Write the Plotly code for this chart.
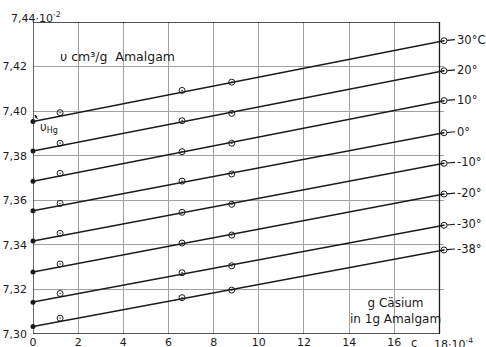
import plotly.graph_objects as go

# --- data ---
temps = ["30°C", "20°", "10°", "0°", "-10°", "-20°", "-30°", "-38°"]
# specific volume of pure mercury (c = 0), units of 10^-2 cm3/g
v_hg = [7.3953, 7.3821, 7.3685, 7.3553, 7.3417, 7.3278, 7.3143, 7.3034]
# end of the fitted lines (right-hand circles)
c_end = 18.2
v_end = [7.4316, 7.4181, 7.4047, 7.3903, 7.3766, 7.3628, 7.3488, 7.3377]
# measured concentrations (10^-4 g Cs in 1 g amalgam)
c_meas = [1.2, 6.6, 8.8, 18.2]
v_meas = [
    [7.3993, 7.4093, 7.4130, 7.4316],
    [7.3856, 7.3957, 7.3990, 7.4181],
    [7.3721, 7.3818, 7.3856, 7.4047],
    [7.3586, 7.3686, 7.3718, 7.3903],
    [7.3452, 7.3546, 7.3582, 7.3766],
    [7.3314, 7.3408, 7.3444, 7.3628],
    [7.3182, 7.3275, 7.3306, 7.3488],
    [7.3071, 7.3163, 7.3197, 7.3377],
]
x_ticks = [0, 2, 4, 6, 8, 10, 12, 14, 16, 18]
x_ticktext = ["0", "2", "4", "6", "8", "10", "12", "14", "16", ""]
y_ticks = [7.30, 7.32, 7.34, 7.36, 7.38, 7.40, 7.42, 7.44]
y_ticktext = ["7,30", "7,32", "7,34", "7,36", "7,38", "7,40", "7,42", ""]

X_FRAME = 18          # right edge of the drawn frame
Y_RANGE = [7.30, 7.44]
FONT = "DejaVu Sans"
INK = "#1a1a1a"

fig = go.Figure()

for i, t in enumerate(temps):
    fig.add_trace(go.Scatter(
        x=[0, c_end], y=[v_hg[i], v_end[i]], mode="lines",
        line=dict(color=INK, width=1.5), showlegend=False, hoverinfo="skip"))
    fig.add_trace(go.Scatter(
        x=c_meas, y=v_meas[i], mode="markers",
        marker=dict(symbol="circle-open-dot", size=6, color=INK,
                    line=dict(width=1, color=INK)),
        cliponaxis=False, showlegend=False))
    fig.add_trace(go.Scatter(
        x=[0], y=[v_hg[i]], mode="markers",
        marker=dict(symbol="circle", size=5, color=INK),
        cliponaxis=False, showlegend=False))
    # label with leader line, anchored at the right-hand circle
    fig.add_annotation(
        x=c_end, y=v_end[i], xref="x", yref="y", text=t,
        showarrow=True, arrowhead=0, arrowwidth=1.2, arrowcolor=INK,
        ax=11, ay=-1, xanchor="left", standoff=3,
        font=dict(family=FONT, size=11.5, color=INK))

# frame (the curves run slightly past its right edge, as in the original)
fig.add_shape(type="rect", xref="x", yref="y",
              x0=0, x1=X_FRAME, y0=Y_RANGE[0], y1=Y_RANGE[1],
              line=dict(color=INK, width=1.3), layer="above")

# text labels
fig.add_annotation(x=0.06, y=0.89, xref="paper", yref="paper",
                   text="υ cm³/g  Amalgam", showarrow=False,
                   xanchor="left", yanchor="middle",
                   font=dict(family=FONT, size=12.5, color=INK))
fig.add_annotation(x=16.05, y=0.075, xref="x", yref="paper",
                   text="g Cäsium<br>in 1g Amalgam", showarrow=False,
                   xanchor="center", yanchor="middle", align="center",
                   font=dict(family=FONT, size=12, color=INK))
fig.add_annotation(x=0.012, y=0.663, xref="paper", yref="paper",
                   text="υ<sub>Hg</sub>", showarrow=False,
                   xanchor="left", yanchor="middle",
                   font=dict(family=FONT, size=11.5, color=INK))
fig.add_annotation(x=0.004, y=0.703, xref="paper", yref="paper",
                   text="", showarrow=True, arrowhead=2, arrowsize=0.6,
                   arrowwidth=1, arrowcolor=INK, ax=4, ay=6)
fig.add_annotation(x=-0.059, y=1.016, xref="paper", yref="paper",
                   text="7,44·10<sup>-2</sup>", showarrow=False,
                   xanchor="left", yanchor="middle",
                   font=dict(family=FONT, size=11, color=INK))
fig.add_annotation(x=X_FRAME, y=-0.03, xref="x", yref="paper",
                   text="18·10<sup>-4</sup>", showarrow=False,
                   xanchor="left", yanchor="middle", xshift=-7,
                   font=dict(family=FONT, size=11, color=INK))
fig.add_annotation(x=16.85, y=-0.03, xref="x", yref="paper",
                   text="c", showarrow=False,
                   xanchor="center", yanchor="middle",
                   font=dict(family=FONT, size=11.5, color=INK))

axis_common = dict(showline=False, showgrid=True, gridcolor="#a0a0a0",
                   gridwidth=0.8, zeroline=False, ticks="", automargin=False,
                   tickfont=dict(family=FONT, size=11, color=INK))

fig.update_xaxes(range=[0, c_end], tickvals=x_ticks, ticktext=x_ticktext,
                 ticklabelstandoff=0, **axis_common)
fig.update_yaxes(range=Y_RANGE, tickvals=y_ticks, ticktext=y_ticktext,
                 ticklabelstandoff=5, **axis_common)

fig.update_layout(width=486, height=347,
                  margin=dict(l=33, r=42, t=22, b=13),
                  paper_bgcolor="white", plot_bgcolor="white",
                  showlegend=False)

fig.write_html("out.html", config={"displayModeBar": False},
               post_script="document.body.style.margin='0';document.body.style.padding='0';")
